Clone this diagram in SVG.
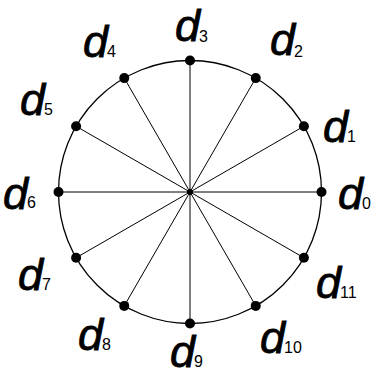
<svg xmlns="http://www.w3.org/2000/svg" width="376" height="377" viewBox="0 0 376 377">
<style>
.d{font-family:"Liberation Sans",Arial,sans-serif;font-style:italic;font-size:45px;fill:#000;stroke:#000;stroke-width:0.8}
.s{font-family:"Liberation Sans",Arial,sans-serif;font-size:16px;fill:#000}
.sp{stroke:#000;stroke-width:1}
.dot{fill:#000}
</style>
<rect width="376" height="377" fill="#fff"/>
<g id="connectors">
<circle cx="190" cy="192" r="131.5" fill="none" stroke="#000" stroke-width="1.3"/>
<line class="sp" x1="190" y1="192" x2="321.5" y2="192"/>
<line class="sp" x1="190" y1="192" x2="303.9" y2="126.25"/>
<line class="sp" x1="190" y1="192" x2="255.75" y2="78.1"/>
<line class="sp" x1="190" y1="192" x2="190" y2="60.5"/>
<line class="sp" x1="190" y1="192" x2="124.25" y2="78.1"/>
<line class="sp" x1="190" y1="192" x2="76.1" y2="126.25"/>
<line class="sp" x1="190" y1="192" x2="58.5" y2="192"/>
<line class="sp" x1="190" y1="192" x2="76.1" y2="257.75"/>
<line class="sp" x1="190" y1="192" x2="124.25" y2="305.9"/>
<line class="sp" x1="190" y1="192" x2="190" y2="323.5"/>
<line class="sp" x1="190" y1="192" x2="255.75" y2="305.9"/>
<line class="sp" x1="190" y1="192" x2="303.9" y2="257.75"/>
<circle class="dot" cx="190" cy="192" r="3"/>
</g>
<g id="d0"><circle class="dot" cx="321.5" cy="192" r="5"/><text class="d" x="338" y="209">d</text><text class="s" x="362" y="209">0</text></g>
<g id="d1"><circle class="dot" cx="303.9" cy="126.25" r="5"/><text class="d" x="323" y="142">d</text><text class="s" x="347" y="142">1</text></g>
<g id="d2"><circle class="dot" cx="255.75" cy="78.1" r="5"/><text class="d" x="270" y="55">d</text><text class="s" x="294" y="57">2</text></g>
<g id="d3"><circle class="dot" cx="190" cy="60.5" r="5"/><text class="d" x="175" y="41">d</text><text class="s" x="199" y="42">3</text></g>
<g id="d4"><circle class="dot" cx="124.25" cy="78.1" r="5"/><text class="d" x="83" y="57">d</text><text class="s" x="107" y="57">4</text></g>
<g id="d5"><circle class="dot" cx="76.1" cy="126.25" r="5"/><text class="d" x="20" y="115">d</text><text class="s" x="44" y="115">5</text></g>
<g id="d6"><circle class="dot" cx="58.5" cy="192" r="5"/><text class="d" x="3" y="209">d</text><text class="s" x="27" y="208">6</text></g>
<g id="d7"><circle class="dot" cx="76.1" cy="257.75" r="5"/><text class="d" x="18" y="290">d</text><text class="s" x="42" y="290">7</text></g>
<g id="d8"><circle class="dot" cx="124.25" cy="305.9" r="5"/><text class="d" x="78" y="350">d</text><text class="s" x="102" y="350">8</text></g>
<g id="d9"><circle class="dot" cx="190" cy="323.5" r="5"/><text class="d" x="170" y="367">d</text><text class="s" x="194" y="367">9</text></g>
<g id="d10"><circle class="dot" cx="255.75" cy="305.9" r="5"/><text class="d" x="260" y="353">d</text><text class="s" x="284" y="353">10</text></g>
<g id="d11"><circle class="dot" cx="303.9" cy="257.75" r="5"/><text class="d" x="316" y="298">d</text><text class="s" x="340" y="298">11</text></g>
</svg>
